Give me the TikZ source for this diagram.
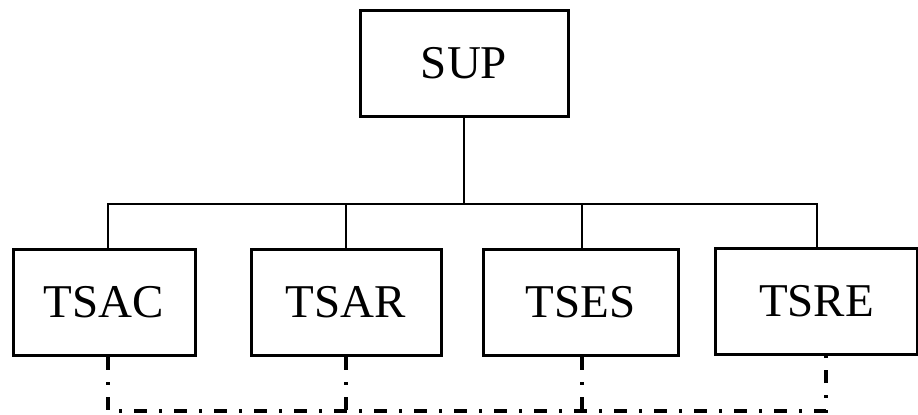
\documentclass[tikz,border=0pt]{standalone}
\usepackage{fontspec}
\setmainfont{Liberation Serif}
\tikzset{
  unit/.style={draw, line width=1.5pt, inner sep=0pt, minimum height=53pt, font=\fontsize{23.5}{28}\selectfont},
  link/.style={line width=1.4pt},
  dotlink/.style={line width=1.8pt, dash pattern=on 6.5pt off 6pt on 1.5pt off 6pt}
}
\begin{document}
\begin{tikzpicture}[x=0.5pt,y=-0.5pt]
			\useasboundingbox (0,0) rectangle (918,414);
			
			% Draw the boxes
			\node[unit, minimum width=104pt] (sup) at (464,63) {SUP};
			\node[unit, minimum width=91pt] (tsac) at (104,302.5) {TSAC};
			\node[unit, minimum width=95pt] (tsar) at (346,302.5) {TSAR};
			\node[unit, minimum width=97.5pt] (tses) at (580.5,302.5) {TSES};
			\node[unit, minimum width=101pt] (tsre) at (816.5,301) {TSRE};
			
			% Points on the top bus
			\coordinate (jac) at (108,204);
			\coordinate (jar) at (346,204);
			\coordinate (jes) at (582,204);
			\coordinate (jre) at (817,204);
			
			% Draw the top bus
			\draw[link] (sup.south) -- (sup.south |- jac);
			\draw[link] (jac |- tsac.north) -- (jac) -- (jre) -- (jre |- tsre.north);
			\draw[link] (jar) -- (jar |- tsar.north);
			\draw[link] (jes) -- (jes |- tses.north);
			
			% Points on the bottom bus
			\coordinate (dac) at (108,411);
			\coordinate (dar) at (346,411);
			\coordinate (des) at (582,411);
			\coordinate (dre) at (826,411);
			
			% Draw the dash-dotted bus
			\draw[dotlink] (dac |- tsac.south) -- (dac) -- (dre) -- (dre |- tsre.south);
			\draw[dotlink] (dar |- tsar.south) -- (dar);
			\draw[dotlink] (des |- tses.south) -- (des);
			
		\end{tikzpicture}
\end{document}
